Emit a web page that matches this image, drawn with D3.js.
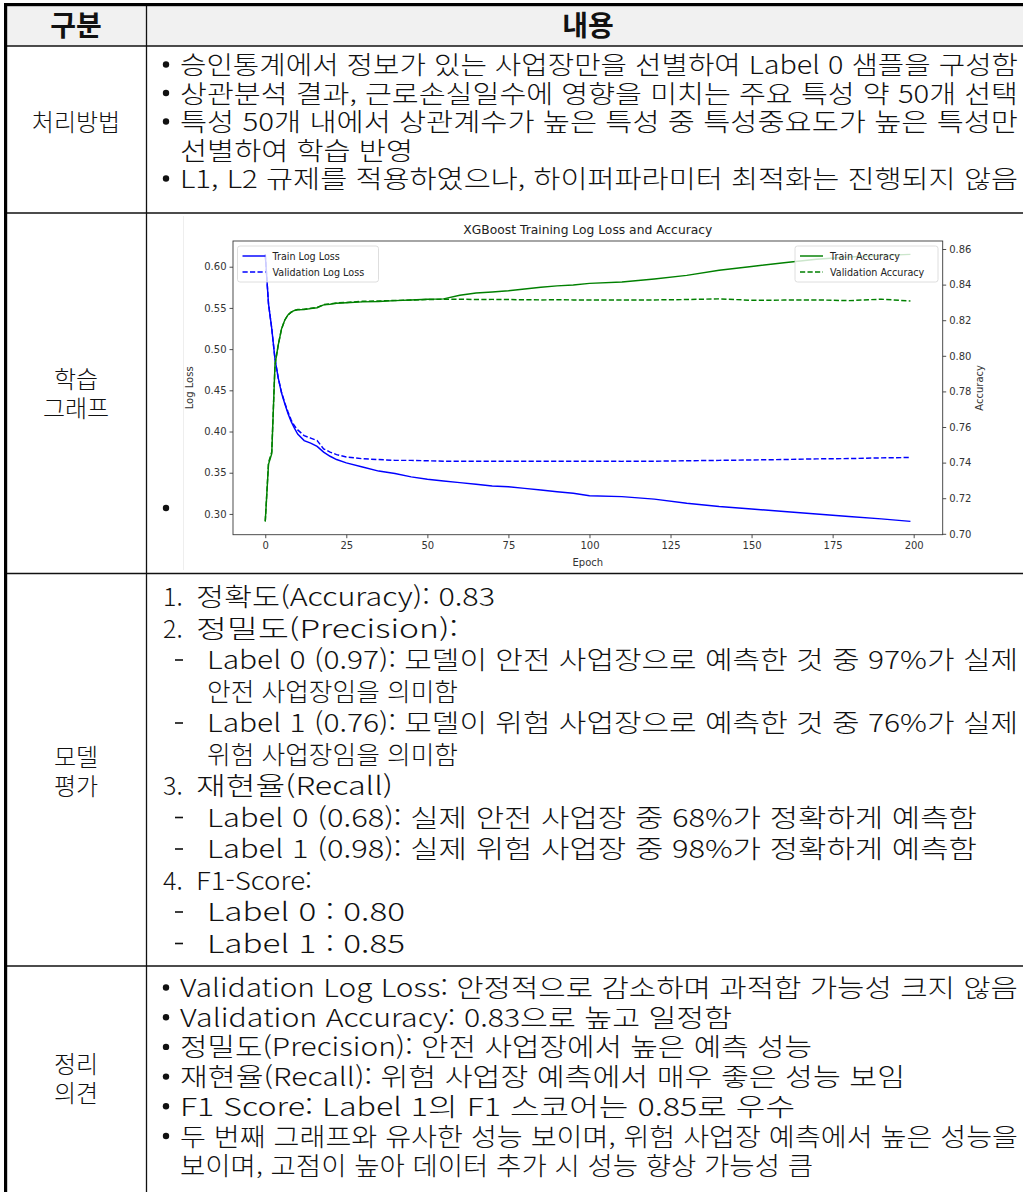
<!DOCTYPE html>
<html lang="ko">
<head>
<meta charset="utf-8">
<script src="https://cdn.jsdelivr.net/npm/d3@7"></script>
<style>
  html, body { margin: 0; padding: 0; background: #fff; }
  svg { display: block; }
  .cell { font-family: "Noto Sans CJK KR", "Noto Sans", sans-serif; fill: #111; }
  .cell .body { font-weight: 300; }
  .chart text { font-family: "DejaVu Sans", sans-serif; }
</style>
</head>
<body>
<svg id="page" width="1023" height="1192"></svg>
<script>
// ---- training history (epoch → metric) ----
const epochs    = [0,1,2,3,4,5,6,7,8,9,10,12,14,16,18,20,22,25,30,35,40,45,50,55,60,65,70,75,80,85,90,95,100,110,120,130,140,150,160,170,180,190,199];
const trainLoss = [0.615,0.555,0.525,0.488,0.465,0.447,0.434,0.422,0.412,0.404,0.397,0.389,0.386,0.382,0.375,0.370,0.366,0.362,0.357,0.352,0.349,0.345,0.342,0.340,0.338,0.336,0.334,0.333,0.331,0.329,0.327,0.325,0.322,0.321,0.318,0.313,0.309,0.306,0.303,0.300,0.297,0.294,0.291];
const valLoss   = [0.615,0.555,0.525,0.488,0.465,0.448,0.435,0.424,0.414,0.407,0.402,0.395,0.392,0.389,0.379,0.375,0.372,0.369,0.367,0.366,0.365,0.365,0.3645,0.364,0.364,0.364,0.364,0.364,0.364,0.364,0.364,0.364,0.364,0.3638,0.364,0.3645,0.365,0.3655,0.366,0.3668,0.3672,0.368,0.3685];
const trainAcc  = [0.707,0.739,0.745,0.795,0.806,0.815,0.820,0.823,0.8245,0.8255,0.8258,0.826,0.8265,0.827,0.8286,0.829,0.8295,0.8298,0.8303,0.8305,0.831,0.8313,0.8318,0.832,0.834,0.8353,0.8358,0.8365,0.8375,0.8385,0.8393,0.8398,0.8407,0.8415,0.8432,0.8452,0.8481,0.8502,0.8523,0.8543,0.8555,0.8563,0.857];
const valAcc    = [0.707,0.740,0.746,0.795,0.806,0.815,0.820,0.823,0.8245,0.8255,0.826,0.8262,0.8267,0.8272,0.8288,0.8292,0.8297,0.830,0.8306,0.8308,0.8311,0.8313,0.8316,0.8318,0.8318,0.8316,0.8317,0.8316,0.8315,0.8314,0.8315,0.8314,0.8314,0.8313,0.8314,0.8316,0.832,0.8312,0.8313,0.8314,0.831,0.8318,0.8308];

const lossTicks  = [0.30,0.35,0.40,0.45,0.50,0.55,0.60];
const accTicks   = [0.70,0.72,0.74,0.76,0.78,0.80,0.82,0.84,0.86];
const epochTicks = [0,25,50,75,100,125,150,175,200];

const chartTitle = "XGBoost Training Log Loss and Accuracy";
const lossSeries = [
  { name: "Train Log Loss", values: trainLoss, dash: null },
  { name: "Validation Log Loss", values: valLoss, dash: "5.2,2.3" }
];
const accSeries = [
  { name: "Train Accuracy", values: trainAcc, dash: null },
  { name: "Validation Accuracy", values: valAcc, dash: "5.2,2.3" }
];

// ---- table text ----
const headers = ["구분", "내용"];
const rowLabels = [["처리방법"], ["학습", "그래프"], ["모델", "평가"], ["정리", "의견"]];

const methodLines = [
  { b: true,  t: "승인통계에서 정보가 있는 사업장만을 선별하여 Label 0 샘플을 구성함" },
  { b: true,  t: "상관분석 결과, 근로손실일수에 영향을 미치는 주요 특성 약 50개 선택" },
  { b: true,  t: "특성 50개 내에서 상관계수가 높은 특성 중 특성중요도가 높은 특성만" },
  { b: false, t: "선별하여 학습 반영" },
  { b: true,  t: "L1, L2 규제를 적용하였으나, 하이퍼파라미터 최적화는 진행되지 않음" }
];
// mark: list number or dash; t: the rest of the line
const evalLines = [
  { mark: "1.", t: "정확도(Accuracy):  0.83" },
  { mark: "2.", t: "정밀도(Precision):" },
  { mark: "-",  t: "Label 0 (0.97): 모델이 안전 사업장으로 예측한 것 중 97%가 실제" },
  { mark: "",   t: "안전 사업장임을 의미함" },
  { mark: "-",  t: "Label 1 (0.76): 모델이 위험 사업장으로 예측한 것 중 76%가 실제" },
  { mark: "",   t: "위험 사업장임을 의미함" },
  { mark: "3.", t: "재현율(Recall)" },
  { mark: "-",  t: "Label 0 (0.68): 실제 안전 사업장 중 68%가 정확하게 예측함" },
  { mark: "-",  t: "Label 1 (0.98): 실제 위험 사업장 중 98%가 정확하게 예측함" },
  { mark: "4.", t: "F1-Score:" },
  { mark: "-",  t: "Label 0 : 0.80" },
  { mark: "-",  t: "Label 1 : 0.85" }
];
const opinionLines = [
  { b: true,  t: "Validation Log Loss: 안정적으로 감소하며 과적합 가능성 크지 않음" },
  { b: true,  t: "Validation Accuracy: 0.83으로 높고 일정함" },
  { b: true,  t: "정밀도(Precision): 안전 사업장에서 높은 예측 성능" },
  { b: true,  t: "재현율(Recall): 위험 사업장 예측에서 매우 좋은 성능 보임" },
  { b: true,  t: "F1 Score: Label 1의 F1 스코어는 0.85로 우수" },
  { b: true,  t: "두 번째 그래프와 유사한 성능 보이며, 위험 사업장 예측에서 높은 성능을" },
  { b: false, t: "보이며, 고점이 높아 데이터 추가 시 성능 향상 가능성 큼" }
];

const svg = d3.select("#page");

// ---- table frame ----
const W = 1023, colX = 146.5;
const rowY = [46, 213, 573.5, 966];
svg.append("rect").attr("x", 7).attr("y", 6).attr("width", W - 7).attr("height", rowY[0] - 6).attr("fill", "#f1f1f1");
rowY.forEach(y => svg.append("line").attr("x1", 7).attr("x2", W).attr("y1", y).attr("y2", y)
  .attr("stroke", "#111").attr("stroke-width", 1.6));
svg.append("line").attr("x1", colX).attr("x2", colX).attr("y1", 6).attr("y2", 1192).attr("stroke", "#111").attr("stroke-width", 1.3);
svg.append("rect").attr("x", 4).attr("y", 3).attr("width", W - 4).attr("height", 3.2).attr("fill", "#000");
svg.append("rect").attr("x", 4).attr("y", 3).attr("width", 3.2).attr("height", 1192).attr("fill", "#000");

const cells = svg.append("g").attr("class", "cell");
const FS = 25, BASE = 9;

// headers
cells.selectAll("text.hdr").data(headers).join("text")
  .attr("class", "hdr")
  .attr("x", (d, i) => i === 0 ? 76 : 588)
  .attr("y", 36)
  .attr("text-anchor", "middle")
  .attr("font-size", 28).attr("font-weight", 700)
  .text(d => d);

// row labels
const labelCenters = [122, 393, 771, 1078];
rowLabels.forEach((lines, i) => {
  const n = lines.length, lh = 29;
  lines.forEach((t, j) => {
    cells.append("text").attr("class", "body")
      .attr("x", 76)
      .attr("y", labelCenters[i] + (j - (n - 1) / 2) * lh + 9)
      .attr("text-anchor", "middle")
      .attr("font-size", 24)
      .text(t);
  });
});

// a text line stretched or squeezed to span [x0, x1]
function fitText(t, x0, x1, y) {
  return cells.append("text").attr("class", "body").attr("x", x0).attr("y", y + BASE).attr("font-size", FS)
    .attr("textLength", x1 - x0).attr("lengthAdjust", "spacingAndGlyphs").text(t);
}
function plainText(t, x0, y) {
  return cells.append("text").attr("class", "body").attr("x", x0).attr("y", y + BASE).attr("font-size", FS).text(t);
}

const RIGHT = 1018;
function bulletBlock(lines, y0, lh, ends) {
  lines.forEach((d, i) => {
    const y = y0 + i * lh;
    if (d.b) cells.append("circle").attr("cx", 166).attr("cy", y - 0.5).attr("r", 3.2).attr("fill", "#111");
    fitText(d.t, 180, ends[i], y);
  });
}

bulletBlock(methodLines, 65, 28.5, [RIGHT, RIGHT, RIGHT, 413, RIGHT]);
bulletBlock(opinionLines, 988, 29.7, [RIGHT, 732, 812, 905, 795, RIGHT, 813]);

// evaluation list
const evalEnds = [495, 458, RIGHT, 458, RIGHT, 458, 393, 977, 977, 312, 405, 405];
evalLines.forEach((d, i) => {
  const y = 597 + i * 31.5;
  let x0;
  if (d.mark === "-") {
    cells.append("rect").attr("x", 175).attr("y", y - 0.8).attr("width", 8).attr("height", 1.6).attr("fill", "#111");
    x0 = 207;
  } else if (d.mark) {
    plainText(d.mark, 163, y);
    x0 = 196;
  } else {
    x0 = 207;
  }
  fitText(d.t, x0, evalEnds[i], y);
});

// bullet in the graph cell
cells.append("circle").attr("cx", 166).attr("cy", 508).attr("r", 3.2).attr("fill", "#111");

// ---- embedded chart ----
const chart = svg.append("g").attr("class", "chart");
chart.append("line").attr("x1", 183.5).attr("x2", 183.5).attr("y1", 216).attr("y2", 570)
  .attr("stroke", "#eee").attr("stroke-width", 1);

const plot = { left: 233, right: 942.7, top: 241, bottom: 534.7 };
const pad = (lo, hi) => { const m = (hi - lo) * 0.05; return [lo - m, hi + m]; };

const x = d3.scaleLinear().domain(pad(d3.min(epochs), d3.max(epochs))).range([plot.left, plot.right]);
const yL = d3.scaleLinear()
  .domain(pad(d3.min([...trainLoss, ...valLoss]), d3.max([...trainLoss, ...valLoss])))
  .range([plot.bottom, plot.top]);
const yR = d3.scaleLinear()
  .domain(pad(d3.min([...trainAcc, ...valAcc]), d3.max([...trainAcc, ...valAcc])))
  .range([plot.bottom, plot.top]);

const axisColor = "#3a3a3a";
function styleAxis(g) {
  g.select(".domain").remove();
  g.selectAll(".tick line").attr("stroke", axisColor).attr("stroke-width", 0.9);
  g.selectAll(".tick text").attr("fill", "#333").attr("font-size", 10).attr("font-family", "DejaVu Sans, sans-serif");
}

chart.append("g").attr("transform", `translate(0,${plot.bottom})`)
  .call(d3.axisBottom(x).tickValues(epochTicks).tickFormat(d3.format("d")).tickSize(3.5).tickPadding(4))
  .call(styleAxis);
chart.append("g").attr("transform", `translate(${plot.left},0)`)
  .call(d3.axisLeft(yL).tickValues(lossTicks).tickFormat(d3.format(".2f")).tickSize(3.5).tickPadding(3))
  .call(styleAxis);
chart.append("g").attr("transform", `translate(${plot.right},0)`)
  .call(d3.axisRight(yR).tickValues(accTicks).tickFormat(d3.format(".2f")).tickSize(3.5).tickPadding(3))
  .call(styleAxis);

// series
chart.append("clipPath").attr("id", "plotclip").append("rect")
  .attr("x", plot.left).attr("y", plot.top).attr("width", plot.right - plot.left).attr("height", plot.bottom - plot.top);
const lines = chart.append("g").attr("clip-path", "url(#plotclip)");
const lossLine = d3.line().x((d, i) => x(epochs[i])).y(d => yL(d));
const accLine = d3.line().x((d, i) => x(epochs[i])).y(d => yR(d));

lossSeries.forEach(s => lines.append("path").datum(s.values).attr("d", lossLine)
  .attr("fill", "none").attr("stroke", "#0000ff").attr("stroke-width", 1.45)
  .attr("stroke-dasharray", s.dash));
accSeries.forEach(s => lines.append("path").datum(s.values).attr("d", accLine)
  .attr("fill", "none").attr("stroke", "#008000").attr("stroke-width", 1.45)
  .attr("stroke-dasharray", s.dash));

// spines
chart.append("rect").attr("x", plot.left).attr("y", plot.top)
  .attr("width", plot.right - plot.left).attr("height", plot.bottom - plot.top)
  .attr("fill", "none").attr("stroke", axisColor).attr("stroke-width", 0.9);

// title & axis labels
chart.append("text").attr("x", (plot.left + plot.right) / 2).attr("y", 234)
  .attr("text-anchor", "middle").attr("font-size", 12.3).attr("fill", "#222").text(chartTitle);
chart.append("text").attr("x", (plot.left + plot.right) / 2).attr("y", 566)
  .attr("text-anchor", "middle").attr("font-size", 10).attr("fill", "#333").text("Epoch");
chart.append("text").attr("transform", `translate(193,${(plot.top + plot.bottom) / 2}) rotate(-90)`)
  .attr("text-anchor", "middle").attr("font-size", 10).attr("fill", "#333").text("Log Loss");
chart.append("text").attr("transform", `translate(983,${(plot.top + plot.bottom) / 2}) rotate(-90)`)
  .attr("text-anchor", "middle").attr("font-size", 10).attr("fill", "#333").text("Accuracy");

// legends
function legend(series, color, bx, by, bw) {
  const g = chart.append("g");
  g.append("rect").attr("x", bx).attr("y", by).attr("width", bw).attr("height", 36)
    .attr("rx", 2.5).attr("fill", "#fff").attr("fill-opacity", 0.8)
    .attr("stroke", "#d6d6d6").attr("stroke-width", 0.8);
  series.forEach((s, i) => {
    const cy = by + 10 + i * 16;
    g.append("line").attr("x1", bx + 5).attr("x2", bx + 28).attr("y1", cy).attr("y2", cy)
      .attr("stroke", color).attr("stroke-width", 1.45).attr("stroke-dasharray", s.dash);
    g.append("text").attr("x", bx + 35).attr("y", cy + 3.5).attr("font-size", 9.6).attr("fill", "#222").text(s.name);
  });
}
legend(lossSeries, "#0000ff", 237.5, 246, 141);
legend(accSeries, "#008000", 795, 246, 143);
</script>
</body>
</html>
